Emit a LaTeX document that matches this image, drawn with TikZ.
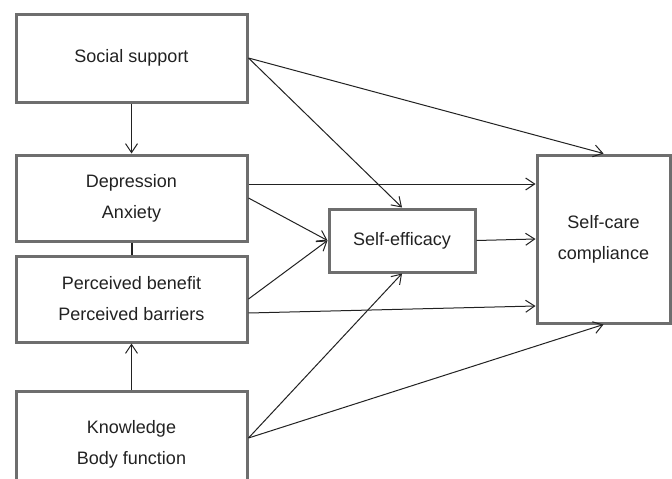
\documentclass[tikz,border=0pt]{standalone}
\usepackage{fontspec}
\setmainfont{Liberation Sans}
\usetikzlibrary{arrows.meta}

\definecolor{boxgray}{HTML}{6E6E6E}
\definecolor{inkdark}{HTML}{222222}

\tikzset{
  box/.style={draw=boxgray, line width=3pt, fill=white, align=center,
    text=inkdark, font=\fontsize{18}{31}\selectfont, inner sep=0pt},
  arr/.style={draw=inkdark, line width=1pt, -{Straight Barb[length=9pt,width=12pt]}},
}

\begin{document}
\begin{tikzpicture}[x=1pt, y=-1pt]
  % 画布大小
  \clip (0,0) rectangle (672,479);
  \fill[white] (0,0) rectangle (672,479);

  % 左侧四个方框
  \node[box, minimum width=231pt, minimum height=88pt]  (social) at (131.5,58)  {Social support};
  \node[box, minimum width=231pt, minimum height=86pt]  (depr)   at (131.5,198) {Depression\\Anxiety};
  \node[box, minimum width=231pt, minimum height=86pt]  (perc)   at (131.5,299) {Perceived benefit\\Perceived barriers};
  \node[box, minimum width=231pt, minimum height=106pt] (know)   at (131.5,444.5) {Knowledge\\Body function};

  % 中间与右侧方框
  \node[box, minimum width=146pt, minimum height=63pt]  (effic)  at (402,240.5) {Self-efficacy};
  \node[box, minimum width=133pt, minimum height=168pt] (care)   at (603.5,239) {Self-care\\compliance};

  % 左侧竖线
  \draw[arr] (social.south) -- (depr.north);
  \draw[draw=inkdark, line width=2pt] (depr.south) -- (perc.north);
  \draw[arr] (know.north) -- (perc.south);

  % 指向 Self-efficacy 与 Self-care 的箭头
  \coordinate (d1) at ([yshift=14pt]depr.east);
  \coordinate (p1) at ([yshift=-14pt]perc.east);
  \coordinate (k1) at ([yshift=6.5pt]know.east);
  \draw[arr] (social.east) -- (care.north);
  \draw[arr] (social.east) -- (effic.north);
  \draw[arr] (d1) -- (d1 -| care.west);
  \draw[arr] (depr.east) -- (effic.west);
  \draw[arr] (perc.east) -- (effic.west);
  \draw[arr] (p1) -- ([yshift=-67pt]care.west);
  \draw[arr] (effic.east) -- (care.west);
  \draw[arr] (k1) -- (effic.south);
  \draw[arr] (k1) -- (care.south);
\end{tikzpicture}
\end{document}
